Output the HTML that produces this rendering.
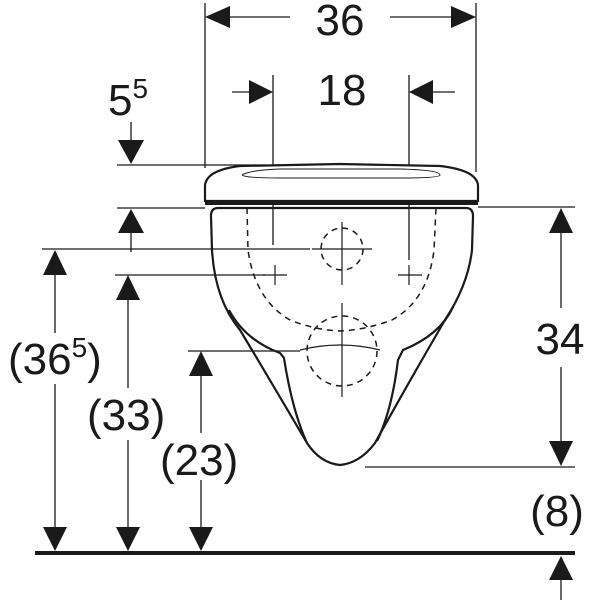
<!DOCTYPE html>
<html><head><style>html,body{margin:0;padding:0;background:#fff}svg{display:block}
text{font-family:"Liberation Sans",sans-serif;fill:#1a1a1a}</style></head>
<body>
<svg width="600" height="600" viewBox="0 0 600 600" xmlns="http://www.w3.org/2000/svg">
<g stroke="#1a1a1a" stroke-width="1.3" fill="none">
<line x1="205" y1="3" x2="205" y2="168"/>
<line x1="476" y1="3" x2="476" y2="172"/>
<line x1="273" y1="75" x2="273" y2="245"/>
<line x1="409" y1="75" x2="409" y2="260"/>
<line x1="117" y1="165" x2="265" y2="165"/>
<line x1="117" y1="208" x2="205" y2="208"/>
<line x1="42" y1="249" x2="310" y2="249"/>
<line x1="115" y1="275" x2="265" y2="275"/>
<line x1="188" y1="351" x2="300" y2="351"/>
<line x1="478" y1="207" x2="575" y2="207"/>
<line x1="365" y1="467" x2="575" y2="467"/>
<line x1="228" y1="17" x2="290" y2="17"/>
<line x1="390" y1="17" x2="452" y2="17"/>
<line x1="232" y1="92" x2="252" y2="92"/>
<line x1="430" y1="92" x2="455" y2="92"/>
<line x1="131" y1="122" x2="131" y2="142"/>
<line x1="131" y1="230" x2="131" y2="252"/>
<line x1="55" y1="270" x2="55" y2="333"/><line x1="55" y1="384" x2="55" y2="532"/>
<line x1="128" y1="298" x2="128" y2="388"/><line x1="128" y1="440" x2="128" y2="532"/>
<line x1="201" y1="372" x2="201" y2="433"/><line x1="201" y1="480" x2="201" y2="532"/>
<line x1="561" y1="230" x2="561" y2="308"/><line x1="561" y1="367" x2="561" y2="445"/>
<line x1="561" y1="578" x2="561" y2="600"/>
</g>
<rect x="35" y="551" width="540" height="4" fill="#1a1a1a"/>
<g fill="#1a1a1a">
<polygon points="205,17 230,6 230,28"/>
<polygon points="476,17 451,6 451,28"/>
<polygon points="273,92 249,80 249,104"/>
<polygon points="409,92 433,80 433,104"/>
<polygon points="131,164 118,140 144,140"/>
<polygon points="131,209 118,233 144,233"/>
<polygon points="55,250 43,275 67,275"/>
<polygon points="55,551 43,527 67,527"/>
<polygon points="128,275 116,300 140,300"/>
<polygon points="128,551 116,527 140,527"/>
<polygon points="201,351 189,376 213,376"/>
<polygon points="201,551 189,527 213,527"/>
<polygon points="561,208 549,233 573,233"/>
<polygon points="561,466 549,441 573,441"/>
<polygon points="561,556 549,580 573,580"/>
</g>
<g stroke="#1a1a1a" fill="none" stroke-width="2.2">
<path d="M205,201 L205,185 Q207,170 240,166 L340,164 L440,166 Q476,170 478,185 L478,201 Z" fill="#fff"/>
<path d="M242,175 Q250,170 280,169 L400,169 Q440,170 440,175 Q440,178 400,178 L280,178 Q245,178 242,175" stroke-width="1"/>
<line x1="205" y1="203" x2="478" y2="203" stroke-width="4"/>
<path d="M218,208 Q211,208 211,216 L212,250 Q215,300 240,330 Q270,380 307,443 Q320,463 340,465 Q360,463 375,443 Q410,380 445,320 Q468,285 472,250 L473,216 Q473,208 466,208 Z"/>
<path d="M229,310 Q245,340 280,353 L284,358 Q292,410 307,443"/>
<path d="M453,307 Q440,335 403,350 L398,360 Q392,410 377,441"/>
</g>
<g stroke="#1a1a1a" fill="none" stroke-width="1.5" stroke-dasharray="6,5">
<path d="M247,208 L248,250 Q255,300 290,320 Q315,330 340,331 Q365,330 392,320 Q428,300 434,250 L436,208"/>
<circle cx="342" cy="249" r="21"/>
<circle cx="342" cy="351" r="35"/>
</g>
<g stroke="#1a1a1a" stroke-width="1.2" fill="none">
<line x1="312" y1="249" x2="372" y2="249"/><line x1="342" y1="222" x2="342" y2="285"/>
<line x1="342" y1="303" x2="342" y2="397"/>
<path d="M300,350 Q340,340 380,350"/>
<line x1="263" y1="275" x2="287" y2="275"/><line x1="275" y1="265" x2="275" y2="285"/>
<line x1="398" y1="275" x2="422" y2="275"/><line x1="409" y1="265" x2="409" y2="285"/>
</g>
<text x="340" y="35" font-size="44" text-anchor="middle">36</text>
<text x="342" y="105" font-size="44" text-anchor="middle">18</text>
<text x="108" y="115" font-size="44">5<tspan font-size="28" dy="-17">5</tspan></text>
<text x="8" y="374" font-size="44">(36<tspan font-size="28" dy="-17">5</tspan><tspan dy="17">)</tspan></text>
<text x="87" y="430" font-size="44">(33)</text>
<text x="160" y="475" font-size="44">(23)</text>
<text x="560" y="354" font-size="44" text-anchor="middle">34</text>
<text x="557" y="526" font-size="44" text-anchor="middle">(8)</text>
</svg>
</body></html>
